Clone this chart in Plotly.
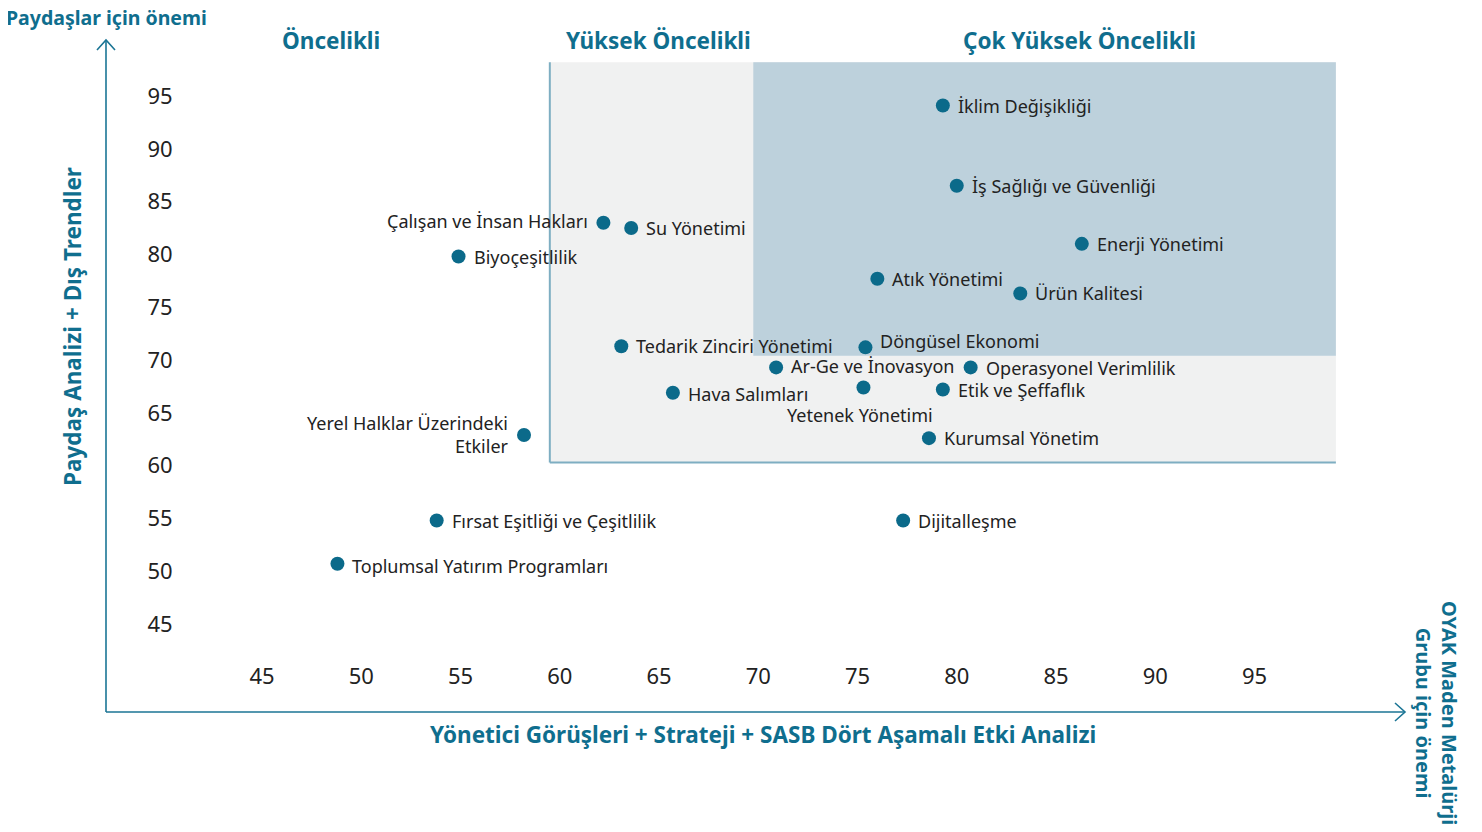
import plotly.graph_objects as go

# ---- data ----
topics = ["İklim Değişikliği", "İş Sağlığı ve Güvenliği", "Enerji Yönetimi", "Atık Yönetimi",
          "Ürün Kalitesi", "Çalışan ve İnsan Hakları", "Su Yönetimi", "Biyoçeşitlilik",
          "Tedarik Zinciri Yönetimi", "Döngüsel Ekonomi", "Ar-Ge ve İnovasyon",
          "Operasyonel Verimlilik", "Hava Salımları", "Yetenek Yönetimi", "Etik ve Şeffaflık",
          "Kurumsal Yönetim", "Yerel Halklar Üzerindeki<br>Etkiler", "Fırsat Eşitliği ve Çeşitlilik",
          "Dijitalleşme", "Toplumsal Yatırım Programları"]
company_importance = [79.3, 80.0, 86.3, 76.0, 83.2, 62.2, 63.6, 54.9, 63.1, 75.4, 70.9,
                      80.7, 65.7, 75.3, 79.3, 78.6, 58.2, 53.8, 77.3, 48.8]
stakeholder_importance = [94.1, 86.5, 81.0, 77.7, 76.3, 83.0, 82.5, 79.8, 71.3, 71.2, 69.3,
                          69.3, 66.9, 67.4, 67.2, 62.6, 62.9, 54.8, 54.8, 50.7]
tick_vals = [45, 50, 55, 60, 65, 70, 75, 80, 85, 90, 95]
tick_text = [str(v) for v in tick_vals]

high_zone = dict(x0=59.5, x1=99.1, y0=60.3, y1=98.2)
very_high_zone = dict(x0=69.75, x1=99.1, y0=70.4, y1=98.2)

zone_titles = ["Öncelikli", "Yüksek Öncelikli", "Çok Yüksek Öncelikli"]
zone_title_x = [48.5, 64.95, 86.2]

x_title = "Yönetici Görüşleri + Strateji + SASB Dört Aşamalı Etki Analizi"
y_title = "Paydaş Analizi + Dış Trendler"
y_corner = "Paydaşlar için önemi"
x_corner = "OYAK Maden Metalürji<br>Grubu için önemi"

# ---- label placement (style) ----
# (anchor side, x shift px, y shift px)
label_style = [("r", 0, 0), ("r", 0, 0), ("r", 0, 0), ("r", 0, 0), ("r", 0, 0),
               ("l", 0, 2), ("r", 0, 0), ("r", 0, 0), ("r", 0, 0), ("r", 0, 6),
               ("r", 0, 1), ("r", 0, -1), ("r", 0, -1), ("b", -3, -28), ("r", 0, 0),
               ("r", 0, 0), ("l", 0, 0), ("r", 0, 0), ("r", 0, 0), ("r", 0, -2)]

# ---- style ----
FONT = "Noto Sans"
TEAL = "#0f6e8e"
MARK = "#0b6a8a"
TXT = "#222222"
AX = "#1b7595"

OFF = 8  # page body margin
W, H = 1474, 824
L, R, T, B = 190 - OFF, 1400 - OFF, 40 - OFF, 655 - OFF  # plot area in figure px


def px_x(s):
    return (s - OFF - L) / (R - L)


def px_y(s):
    return (B - (s - OFF)) / (B - T)


fig = go.Figure()

fig.add_trace(go.Scatter(
    x=company_importance, y=stakeholder_importance, mode="markers",
    marker=dict(size=14, color=MARK), text=[t.replace("<br>", " ") for t in topics],
    cliponaxis=False, hoverinfo="text", showlegend=False,
))

shapes = [
    dict(type="rect", xref="x", yref="y", layer="below", line=dict(width=0),
         fillcolor="#f0f1f1", **high_zone),
    dict(type="rect", xref="x", yref="y", layer="below", line=dict(width=0),
         fillcolor="#bdd1dc", **very_high_zone),
    dict(type="line", xref="x", yref="y", layer="below", line=dict(color="#7eaec2", width=2),
         x0=high_zone["x0"], x1=high_zone["x0"], y0=high_zone["y0"], y1=high_zone["y1"]),
    dict(type="line", xref="x", yref="y", layer="below", line=dict(color="#7eaec2", width=2),
         x0=high_zone["x0"], x1=high_zone["x1"], y0=high_zone["y0"], y1=high_zone["y0"]),
    # axis arrows
    dict(type="line", xref="paper", yref="paper", line=dict(color=AX, width=1.6),
         x0=px_x(106), x1=px_x(106), y0=px_y(712), y1=px_y(40)),
    dict(type="line", xref="paper", yref="paper", line=dict(color=AX, width=1.6),
         x0=px_x(106), x1=px_x(1405), y0=px_y(712), y1=px_y(712)),
    dict(type="path", xref="paper", yref="paper", line=dict(color=AX, width=1.6),
         path=f"M {px_x(97)} {px_y(50)} L {px_x(106)} {px_y(40)} L {px_x(115)} {px_y(50)}"),
    dict(type="path", xref="paper", yref="paper", line=dict(color=AX, width=1.6),
         path=f"M {px_x(1395)} {px_y(703)} L {px_x(1405)} {px_y(712)} L {px_x(1395)} {px_y(721)}"),
]

annotations = []
for t, xv, yv, (side, dx, dy) in zip(topics, company_importance, stakeholder_importance, label_style):
    if side == "r":
        xa, ya, xs, al = "left", "middle", 13 + dx, "left"
    elif side == "l":
        xa, ya, xs, al = "right", "middle", -13 + dx, "right"
    else:
        xa, ya, xs, al = "center", "middle", dx, "center"
    annotations.append(dict(x=xv, y=yv, xref="x", yref="y", text=t, showarrow=False,
                            xanchor=xa, yanchor=ya, xshift=xs, yshift=dy, align=al,
                            font=dict(family=FONT, size=18, color=TXT)))

for t, xv in zip(zone_titles, zone_title_x):
    annotations.append(dict(x=xv, y=px_y(41), xref="x", yref="paper", text=f"<b>{t}</b>",
                            showarrow=False, xanchor="center", yanchor="middle",
                            font=dict(family=FONT, size=22.5, color=TEAL)))
annotations += [
    dict(x=px_x(763), y=px_y(734), xref="paper", yref="paper", text=f"<b>{x_title}</b>",
         showarrow=False, xanchor="center", yanchor="middle",
         font=dict(family=FONT, size=22.5, color=TEAL)),
    dict(x=px_x(72), y=px_y(327), xref="paper", yref="paper", text=f"<b>{y_title}</b>",
         showarrow=False, xanchor="center", yanchor="middle", textangle=-90,
         font=dict(family=FONT, size=22.5, color=TEAL)),
    dict(x=px_x(5), y=px_y(17), xref="paper", yref="paper", text=f"<b>{y_corner}</b>",
         showarrow=False, xanchor="left", yanchor="middle", borderpad=0,
         font=dict(family=FONT, size=19.5, color=TEAL)),
    dict(x=px_x(1437), y=px_y(713), xref="paper", yref="paper", text=f"<b>{x_corner}</b>",
         showarrow=False, xanchor="center", yanchor="middle", textangle=90, align="center",
         font=dict(family=FONT, size=20, color=TEAL)),
]

x_range = [45 + (L + OFF - 262) / 19.85, 45 + (R + OFF - 262) / 19.85]
y_range = [95 - (B + OFF - 96) / 10.56, 95 + (96 - T - OFF) / 10.56]

fig.update_layout(
    width=W, height=H,
    margin=dict(l=L, r=W - R, t=T, b=H - B, pad=0),
    paper_bgcolor="white", plot_bgcolor="white",
    shapes=shapes, annotations=annotations,
    xaxis=dict(range=x_range, tickvals=tick_vals, ticktext=tick_text, showgrid=False,
               zeroline=False, showline=False, ticks="outside", ticklen=2,
               tickcolor="rgba(0,0,0,0)",
               tickfont=dict(family=FONT, size=22, color=TXT)),
    yaxis=dict(range=y_range, tickvals=tick_vals, ticktext=tick_text, showgrid=False,
               zeroline=False, showline=False, ticks="outside", ticklen=12,
               tickcolor="rgba(0,0,0,0)",
               tickfont=dict(family=FONT, size=22, color=TXT)),
)

fig.write_html("out.html")
